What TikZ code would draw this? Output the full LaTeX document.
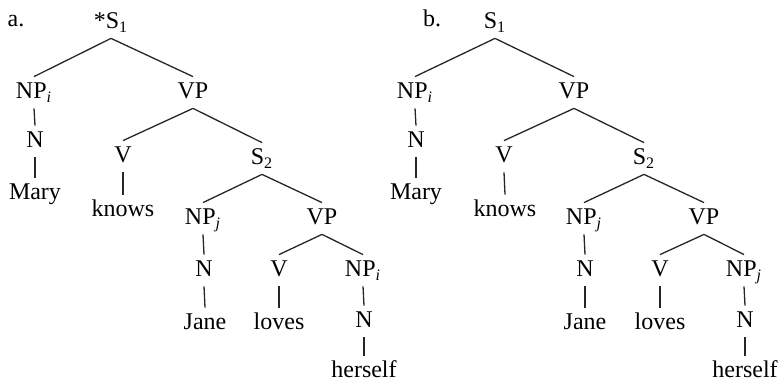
\documentclass[tikz,border=0pt]{standalone}
\usepackage{fontspec}
\setmainfont{Liberation Serif}
\tikzset{
  lab/.style={inner sep=0pt, anchor=base, text height=8pt, text depth=0pt,
              font=\fontsize{12}{14}\selectfont},
  edge/.style={line width=0.65pt, draw=black!85},
}
% branch from a parent label down to a child label
\newcommand\br[2]{\draw[edge] ([yshift=-4.5pt]#1.south) -- ([yshift=3pt]#2.north);}
\newcommand\sub[1]{\textsubscript{#1}}
\begin{document}
\begin{tikzpicture}[x=0.5pt, y=-0.5pt]
\useasboundingbox (0,0) rectangle (781,383);

% ---- tree (a) ----
\node[lab] (a-tag) at (16,27) {a.};
\node[lab] (a-s1)  at (111,29) {*S\sub{1}};
\node[lab] (a-np1) at (34,99) {NP\sub{\itshape i}};
\node[lab] (a-vp1) at (193,99) {VP};
\node[lab] (a-n1)  at (35,148) {N};
\node[lab] (a-mary) at (35,200) {Mary};
\node[lab] (a-v1)  at (123,163) {V};
\node[lab] (a-knows) at (123,217) {knows};
\node[lab] (a-s2)  at (262,165) {S\sub{2}};
\node[lab] (a-np2) at (203,225) {NP\sub{\itshape j}};
\node[lab] (a-vp2) at (322,225) {VP};
\node[lab] (a-n2)  at (204,277) {N};
\node[lab] (a-jane) at (205,330) {Jane};
\node[lab] (a-v2)  at (279,277) {V};
\node[lab] (a-loves) at (279,330) {loves};
\node[lab] (a-np3) at (363,277) {NP\sub{\itshape i}};
\node[lab] (a-n3)  at (364,328) {N};
\node[lab] (a-herself) at (364,378) {herself};

\br{a-s1}{a-np1}  \br{a-s1}{a-vp1}
\br{a-np1}{a-n1}  \br{a-n1}{a-mary}
\br{a-vp1}{a-v1}  \br{a-vp1}{a-s2}
\br{a-v1}{a-knows}
\br{a-s2}{a-np2}  \br{a-s2}{a-vp2}
\br{a-np2}{a-n2}  \br{a-n2}{a-jane}
\br{a-vp2}{a-v2}  \br{a-vp2}{a-np3}
\br{a-v2}{a-loves}
\br{a-np3}{a-n3}  \br{a-n3}{a-herself}

% ---- tree (b) ----
\node[lab] (b-tag) at (432,27) {b.};
\node[lab] (b-s1)  at (495,29) {S\sub{1}};
\node[lab] (b-np1) at (415,99) {NP\sub{\itshape i}};
\node[lab] (b-vp1) at (574,99) {VP};
\node[lab] (b-n1)  at (416,148) {N};
\node[lab] (b-mary) at (416,200) {Mary};
\node[lab] (b-v1)  at (504,163) {V};
\node[lab] (b-knows) at (505,217) {knows};
\node[lab] (b-s2)  at (644,165) {S\sub{2}};
\node[lab] (b-np2) at (584,225) {NP\sub{\itshape j}};
\node[lab] (b-vp2) at (704,225) {VP};
\node[lab] (b-n2)  at (585,277) {N};
\node[lab] (b-jane) at (585,330) {Jane};
\node[lab] (b-v2)  at (660,277) {V};
\node[lab] (b-loves) at (660,330) {loves};
\node[lab] (b-np3) at (744,277) {NP\sub{\itshape j}};
\node[lab] (b-n3)  at (745,328) {N};
\node[lab] (b-herself) at (745,378) {herself};

\br{b-s1}{b-np1}  \br{b-s1}{b-vp1}
\br{b-np1}{b-n1}  \br{b-n1}{b-mary}
\br{b-vp1}{b-v1}  \br{b-vp1}{b-s2}
\br{b-v1}{b-knows}
\br{b-s2}{b-np2}  \br{b-s2}{b-vp2}
\br{b-np2}{b-n2}  \br{b-n2}{b-jane}
\br{b-vp2}{b-v2}  \br{b-vp2}{b-np3}
\br{b-v2}{b-loves}
\br{b-np3}{b-n3}  \br{b-n3}{b-herself}
\end{tikzpicture}
\end{document}
